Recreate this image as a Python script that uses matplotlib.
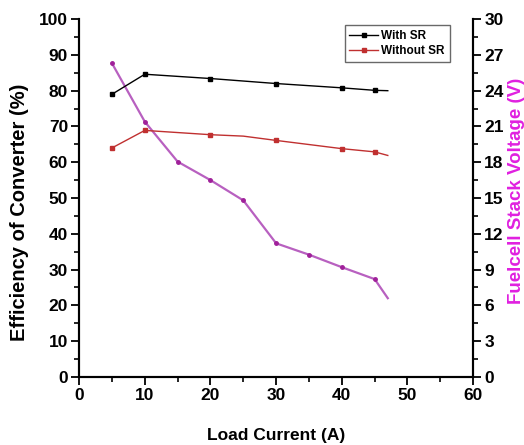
import matplotlib.pyplot as plt
from matplotlib.ticker import MultipleLocator

plt.rcParams['font.family'] = ['Liberation Sans', 'DejaVu Sans']
plt.rcParams['font.weight'] = 'bold'

current = [5, 10, 20, 30, 40, 45, 47]
eff_with_sr = [79.0, 84.6, 83.4, 82.0, 80.8, 80.1, 80.0]

current_wo = [5, 10, 20, 25, 30, 40, 45, 47]
eff_without_sr = [64.0, 68.9, 67.7, 67.3, 66.1, 63.8, 62.9, 61.9]

current_v = [5, 10, 15, 20, 25, 30, 35, 40, 45, 47]
stack_voltage = [26.3, 21.4, 18.05, 16.5, 14.8, 11.2, 10.25, 9.2, 8.2, 6.6]

fig = plt.figure(figsize=(5.24, 4.45), dpi=100)
ax = fig.add_axes([0.151, 0.153, 0.752, 0.804])
ax2 = ax.twinx()

ax2.plot(current_v, stack_voltage, color='#b860c0', lw=1.6, marker='o', ms=2.5,
         mfc='#a0209a', mec='#a0209a', markevery=list(range(9)), zorder=1)

ax.plot(current, eff_with_sr, color='black', lw=1, marker='s', ms=2.5,
        markevery=list(range(6)), label='With SR')
ax.plot(current_wo, eff_without_sr, color='#c03030', lw=1, marker='s', ms=2.5,
        mfc='#c03030', mec='#c03030', markevery=[0, 1, 2, 4, 5, 6], label='Without SR')
ax.set_zorder(ax2.get_zorder() + 1)
ax.patch.set_visible(False)

ax.set_xlim(0, 60)
ax.set_ylim(0, 100)
ax2.set_ylim(0, 30)
ax.xaxis.set_major_locator(MultipleLocator(10))
ax.xaxis.set_minor_locator(MultipleLocator(5))
ax.yaxis.set_major_locator(MultipleLocator(10))
ax.yaxis.set_minor_locator(MultipleLocator(5))
ax2.yaxis.set_major_locator(MultipleLocator(3))
ax2.yaxis.set_minor_locator(MultipleLocator(1.5))

for a in (ax, ax2):
    a.spines['top'].set_visible(False)
    for s in a.spines.values():
        s.set_linewidth(1.5)
    a.tick_params(which='major', length=6, width=1.3, labelsize=12.5, pad=2)
    a.tick_params(which='minor', length=3.5, width=1.2)

ax.set_xlabel('Load Current (A)', fontsize=12.5, fontweight='bold', labelpad=18)
ax.set_ylabel('Efficiency of Converter (%)', fontsize=14.5, fontweight='bold')
ax.yaxis.set_label_coords(-0.127, 0.46)
ax2.set_ylabel('Fuelcell Stack Voltage (V)', fontsize=13.5, fontweight='bold',
               color='#e020e0')
ax2.yaxis.set_label_coords(1.088, 0.52)

leg = ax.legend(loc='upper right', bbox_to_anchor=(0.955, 1.0), fontsize=8.5,
                frameon=True, fancybox=False, handlelength=2.4, borderpad=0.4,
                labelspacing=0.3, handletextpad=0.3)
leg.get_frame().set_edgecolor('#444444')
leg.get_frame().set_linewidth(1)

fig.savefig('out.png', dpi=100)
